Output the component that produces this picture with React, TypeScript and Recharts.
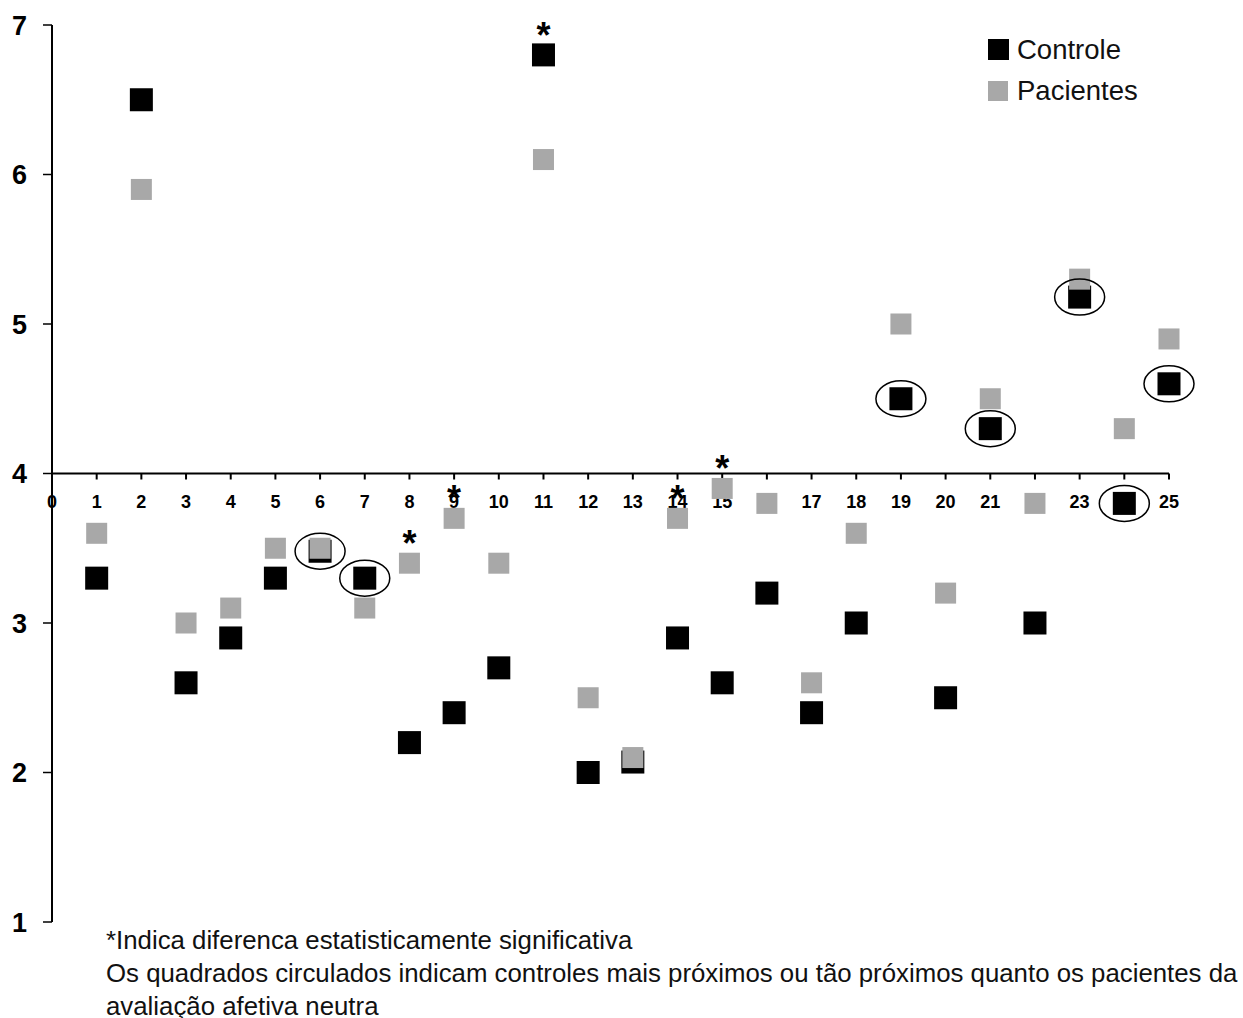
import { ScatterChart, Scatter, XAxis, YAxis, ReferenceLine } from 'recharts'

const FONT = '"Liberation Sans", Arial, Helvetica, sans-serif'

// x positions on the axis (0 is only a label)
const xTicks = [0, 1, 2, 3, 4, 5, 6, 7, 8, 9, 10, 11, 12, 13, 14, 15, 16, 17, 18, 19, 20, 21, 22, 23, 24, 25]
const yTicks = [1, 2, 3, 4, 5, 6, 7]

const participantes = [1, 2, 3, 4, 5, 6, 7, 8, 9, 10, 11, 12, 13, 14, 15, 16, 17, 18, 19, 20, 21, 22, 23, 24, 25]
const controle = [3.3, 6.5, 2.6, 2.9, 3.3, 3.48, 3.3, 2.2, 2.4, 2.7, 6.8, 2.0, 2.07, 2.9, 2.6, 3.2, 2.4, 3.0, 4.5, 2.5, 4.3, 3.0, 5.18, 3.8, 4.6]
const pacientes = [3.6, 5.9, 3.0, 3.1, 3.5, 3.5, 3.1, 3.4, 3.7, 3.4, 6.1, 2.5, 2.1, 3.7, 3.9, 3.8, 2.6, 3.6, 5.0, 3.2, 4.5, 3.8, 5.3, 4.3, 4.9]

// participants with a significant difference (*) and circled controls
const significativos = [8, 9, 11, 14, 15]
const circulados = [6, 7, 19, 21, 23, 24, 25]

const BLACK = '#000000'
const GRAY = '#a8a8a8'

const controleData = participantes.map((x, i) => ({ x, y: controle[i] }))
const pacientesData = participantes.map((x, i) => ({ x, y: pacientes[i] }))
const circuladosData = circulados.map((x) => ({ x, y: controle[x - 1] }))
const asteriscosData = significativos.map((x) => ({ x, y: Math.max(controle[x - 1], pacientes[x - 1]) }))
const ticksData = xTicks.map((x) => ({ x, y: 4 }))

const square = (size: number, color: string) => (props: any) => {
  const { cx, cy } = props
  return <rect x={cx - size / 2} y={cy - size / 2} width={size} height={size} fill={color} />
}

const ellipse = (props: any) => {
  const { cx, cy } = props
  return <ellipse cx={cx} cy={cy} rx={25} ry={18} fill="none" stroke={BLACK} strokeWidth={1.5} />
}

const asterisk = (props: any) => {
  const { cx, cy } = props
  return (
    <text x={cx} y={cy - 7} textAnchor="middle" fontSize={36} fontWeight="bold" fontFamily={FONT} fill={BLACK}>
      *
    </text>
  )
}

const xTick = (props: any) => {
  const { cx, cy, payload } = props
  return (
    <g>
      {payload.x > 0 && <line x1={cx} y1={cy} x2={cx} y2={cy + 6} stroke={BLACK} strokeWidth={2} />}
      <text x={cx} y={cy + 34} textAnchor="middle" fontSize={18} fontWeight="bold" fontFamily={FONT} fill={BLACK}>
        {payload.x}
      </text>
    </g>
  )
}

export default function App() {
  return (
    <div style={{ position: 'absolute', left: 0, top: 0, width: 1243, height: 1018, background: '#fff' }}>
      <ScatterChart width={1243} height={1018} margin={{ top: 25, right: 74, bottom: 96, left: 0 }}>
        <XAxis type="number" dataKey="x" domain={[0, 25]} hide />
        <YAxis
          type="number"
          dataKey="y"
          domain={[1, 7]}
          ticks={yTicks}
          width={52}
          axisLine={{ stroke: BLACK, strokeWidth: 2 }}
          tickLine={{ stroke: BLACK, strokeWidth: 1.5 }}
          tickSize={9}
          tickMargin={16}
          tick={{ fontSize: 27, fontWeight: 'bold', fill: BLACK, fontFamily: FONT }}
        />
        <ReferenceLine y={4} stroke={BLACK} strokeWidth={2} />
        <Scatter data={ticksData} shape={xTick} isAnimationActive={false} legendType="none" />
        <Scatter name="Controle" data={controleData} shape={square(23, BLACK)} isAnimationActive={false} />
        <Scatter name="Pacientes" data={pacientesData} shape={square(21, GRAY)} isAnimationActive={false} />
        <Scatter data={circuladosData} shape={ellipse} isAnimationActive={false} legendType="none" />
        <Scatter data={asteriscosData} shape={asterisk} isAnimationActive={false} legendType="none" />
      </ScatterChart>
      <div
        style={{
          position: 'absolute',
          left: 988,
          top: 29,
          fontFamily: FONT,
          fontSize: 27.5,
          color: '#111',
          lineHeight: '41px',
        }}
      >
        <div style={{ display: 'flex', alignItems: 'center' }}>
          <span style={{ width: 21, height: 21, background: BLACK, display: 'inline-block', marginRight: 8 }} />
          Controle
        </div>
        <div style={{ display: 'flex', alignItems: 'center' }}>
          <span style={{ width: 20, height: 20, background: GRAY, display: 'inline-block', marginRight: 9 }} />
          Pacientes
        </div>
      </div>
      <div
        style={{
          position: 'absolute',
          left: 106,
          top: 924,
          fontFamily: FONT,
          fontSize: 25.8,
          lineHeight: '33px',
          color: '#111',
          whiteSpace: 'nowrap',
        }}
      >
        <div>*Indica diferenca estatisticamente significativa</div>
        <div>Os quadrados circulados indicam controles mais próximos ou tão próximos quanto os pacientes da</div>
        <div>avaliação afetiva neutra</div>
      </div>
    </div>
  )
}
